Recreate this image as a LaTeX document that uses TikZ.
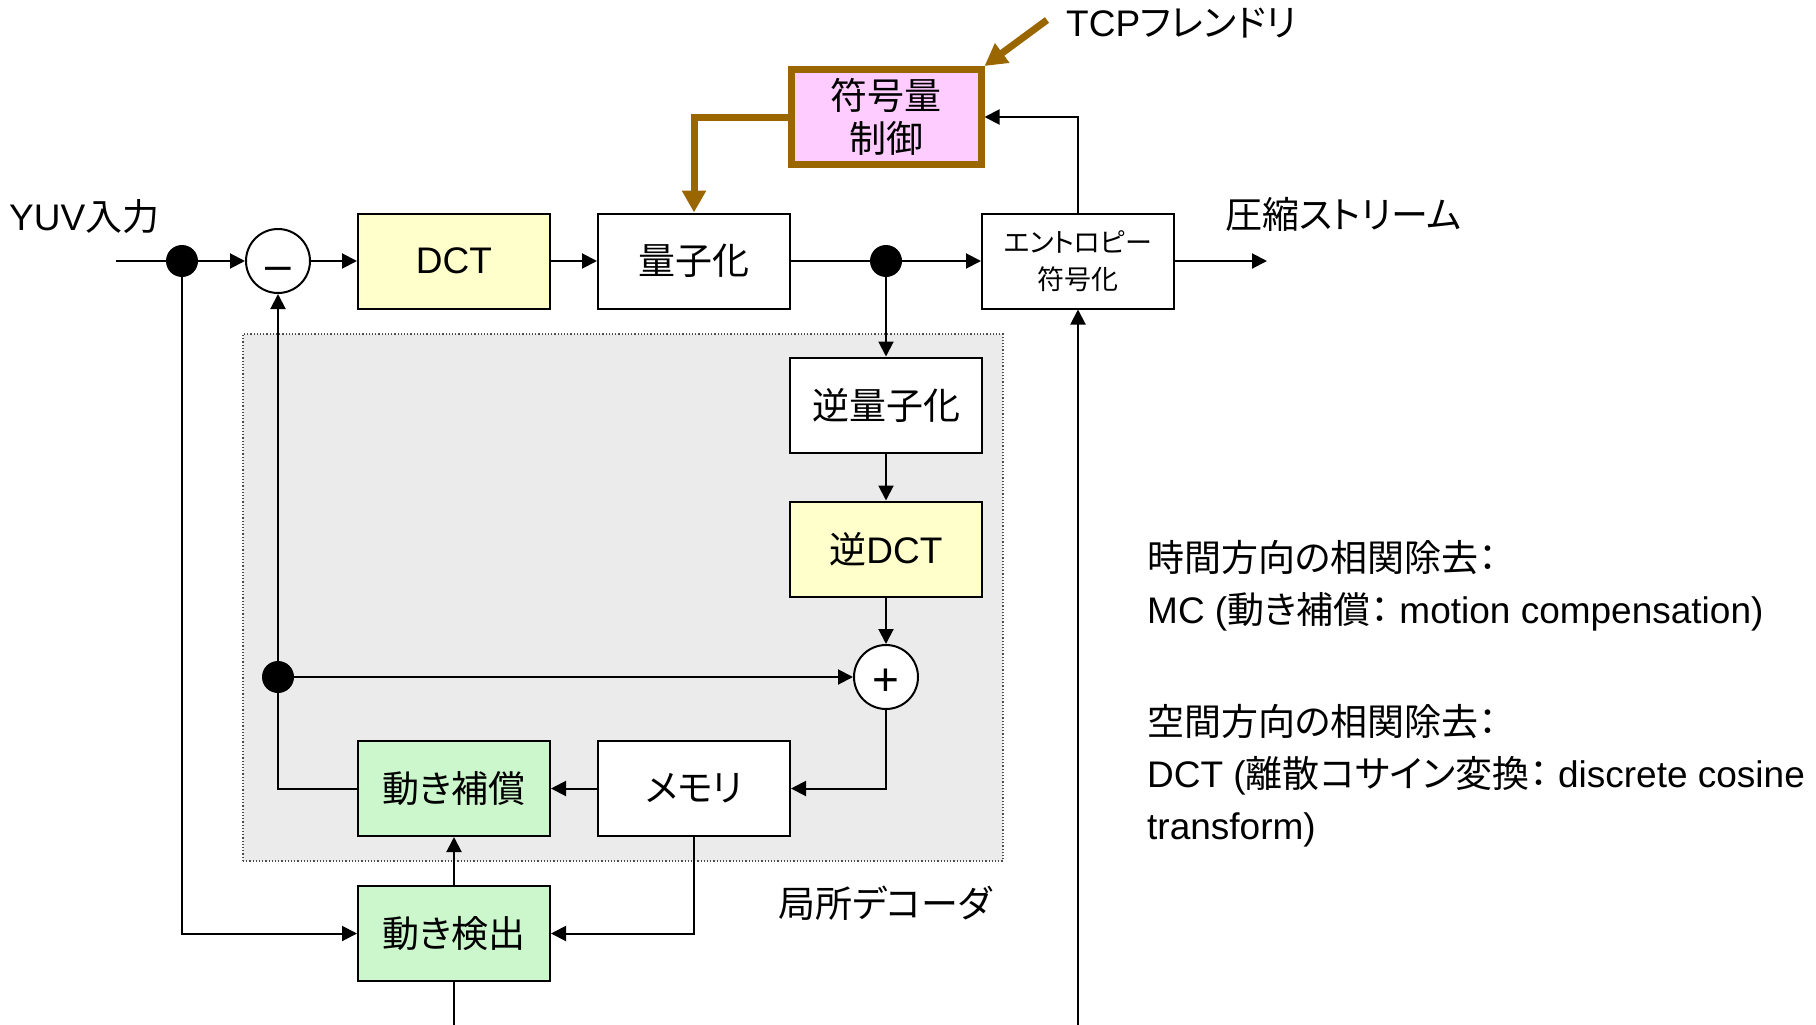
\documentclass[tikz,border=0pt]{standalone}
\usepackage{fontspec}
\setmainfont{Liberation Sans}
\newfontfamily\jp[RawFeature=+palt]{Noto Sans CJK JP}
\usetikzlibrary{arrows.meta}
\definecolor{brn}{HTML}{996600}
\definecolor{yel}{HTML}{FFFFCC}
\definecolor{grn}{HTML}{CCF7CC}
\definecolor{pnk}{HTML}{FFCCFF}
\definecolor{reg}{HTML}{EBEBEB}
\begin{document}
\begin{tikzpicture}[x=1pt,y=-1pt,
  box/.style={draw, line width=2pt, minimum width=192pt, minimum height=95pt, inner sep=0pt, fill=white,
    font=\fontsize{37}{44}\selectfont},
  circ/.style={draw, circle, line width=2pt, minimum size=64pt, inner sep=0pt, fill=white,
    font=\fontsize{46}{50}\selectfont, text depth=0pt},
  dotn/.style={circle, fill=black, minimum size=32pt, inner sep=0pt},
  lbl/.style={inner sep=0pt, anchor=base west, font=\fontsize{37}{44}\selectfont},
  conn/.style={line width=2pt},
  arr/.style={line width=2pt, -{Triangle[length=15pt,width=15pt]}},
  barr/.style={line width=7pt, draw=brn, -{Triangle[length=22pt,width=23pt]}},
  region/.style={draw=black!70, dotted, line width=1.2pt, fill=reg, minimum width=760pt, minimum height=527pt, inner sep=0pt}
]
\useasboundingbox (0,0) rectangle (1816,1025);
\fill[white] (0,0) rectangle (1816,1025);

% local decoder region
\node[region] (dec) at (623,597.5) {};

% nodes
\node[box, fill=yel] (dct) at (454,261) {DCT};
\node[box] (q) at (694,261) {\jp 量子化};
\node[box, align=center, font=\fontsize{27}{37}\selectfont] (ent) at (1078,261) {\jp エントロピー\\\jp 符号化};
\node[draw=brn, line width=7pt, fill=pnk, minimum width=190pt, minimum height=95pt, inner sep=0pt,
      align=center, font=\fontsize{37}{43}\selectfont] (rc) at (886,117) {\raisebox{-4pt}{\jp 符号量}\\\raisebox{-4pt}{\jp 制御}};
\node[box] (iq) at (886,405) {\jp 逆量子化};
\node[box, fill=yel] (idct) at (886,549) {{\jp 逆}DCT};
\node[box, fill=grn] (mc) at (454,788.5) {\jp 動き補償};
\node[box] (mem) at (694,788.5) {\jp メモリ};
\node[box, fill=grn] (me) at (454,933.5) {\jp 動き検出};

\node[circ, text height=39pt] (minus) at (278,261) {–};
\node[circ, text height=37pt] (plus) at (886,677) {+};

\coordinate (in) at (116,261);
\coordinate (out) at (1267,261);
\coordinate (mebot) at (454,1025);
\coordinate (entbot) at (1078,1025);
\coordinate (tcp) at (1047,20);

% connectors
\draw[conn] (in) -- (182,261);
\draw[arr] (182,261) -- (minus);
\draw[arr] (minus) -- (dct);
\draw[arr] (dct) -- (q);
\draw[arr] (q) -- (ent);
\draw[arr] (ent) -- (out);
\draw[arr] (886,261) -- (iq);
\draw[arr] (iq) -- (idct);
\draw[arr] (idct) -- (plus);
\draw[arr] (278,677) -- (plus);
\draw[arr] (plus) |- (mem.east);
\draw[arr] (mem) -- (mc);
\draw[conn] (mc.west) -| (278,677);
\draw[arr] (278,677) -- (minus);
\draw[arr] (182,261) |- (me.west);
\draw[arr] (mem.south) |- (me.east);
\draw[arr] (me) -- (mc);
\draw[conn] (me.south) -- (mebot);
\draw[arr] (entbot) -- (ent.south);
\draw[arr] (ent.north) |- (rc.east);
\draw[barr] (rc.west) -| (q.north);
\draw[barr] (tcp) -- (rc.north east);

% junction dots
\node[dotn] (d1) at (182,261) {};
\node[dotn] (d2) at (886,261) {};
\node[dotn] (d3) at (278,677) {};

% labels
\node[lbl] (tyuv) at (9,230) {YUV{\jp 入力}};
\node[lbl] (tout) at (1225,228) {\jp 圧縮ストリーム};
\node[lbl] (ttcp) at (1066,37) {TCP{\jp フレンドリ}};
\node[lbl] (tdec) at (778,917) {\jp 局所デコーダ};

\node[lbl] (r1) at (1147,571) {\jp 時間方向の相関除去：};
\node[lbl] (r2) at (1147,623) {MC ({\jp 動き補償：}\ motion compensation)};
\node[lbl] (r3) at (1147,735) {\jp 空間方向の相関除去：};
\node[lbl] (r4) at (1147,787) {DCT ({\jp 離散コサイン変換：}\ discrete cosine};
\node[lbl] (r5) at (1147,839) {transform)};
\end{tikzpicture}
\end{document}
